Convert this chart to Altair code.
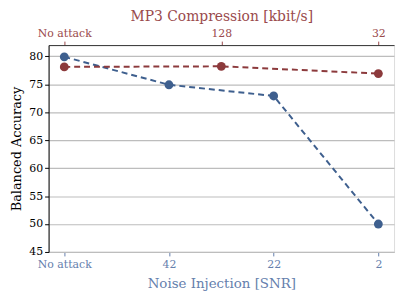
import altair as alt
import pandas as pd

noise_labels = ["No attack", "42", "22", "2"]
noise_values = [79.9, 74.9, 72.9, 50.0]
mp3_labels = ["No attack", "128", "32"]
mp3_values = [78.1, 78.2, 76.9]

blue = "#3E5F8E"
blue_txt = "#6580AD"
red = "#8C3A3C"
red_txt = "#9A4A4C"
font = "DejaVu Serif"

df_noise = pd.DataFrame({"lab": noise_labels, "acc": noise_values})
df_mp3 = pd.DataFrame({"lab": mp3_labels, "acc": mp3_values})

yscale = alt.Scale(domain=[45, 82], nice=False, zero=False)
yaxis = alt.Axis(title="Balanced Accuracy", values=[45, 50, 55, 60, 65, 70, 75, 80],
                 grid=True, gridColor="#BDBDBD", gridWidth=1.2, domainColor="black",
                 tickColor="black", tickSize=4, labelFontSize=11, titleFontSize=13,
                 labelColor="black", titleColor="black", labelFont=font, titleFont=font,
                 titleFontWeight="normal", labelPadding=2, titlePadding=5)

base_n = alt.Chart(df_noise).encode(
    x=alt.X("lab:N", sort=noise_labels,
            scale=alt.Scale(type="point", padding=0.15),
            axis=alt.Axis(title="Noise Injection [SNR]", orient="bottom", labelAngle=0,
                          labelColor=blue_txt, titleColor=blue_txt, tickColor=blue_txt,
                          domainColor="#BDBDBD", tickSize=4, labelFontSize=11,
                          titleFontSize=13.5, labelFont=font, titleFont=font,
                          titleFontWeight="normal", labelPadding=3, titlePadding=7, grid=False)),
    y=alt.Y("acc:Q", scale=yscale, axis=yaxis),
)
line_n = base_n.mark_line(color=blue, strokeDash=[6, 4], strokeWidth=2)
pts_n = base_n.mark_circle(color=blue, size=80, opacity=1)

base_m = alt.Chart(df_mp3).encode(
    x=alt.X("lab:N", sort=mp3_labels,
            scale=alt.Scale(type="point", padding=0.1),
            axis=alt.Axis(title="MP3 Compression [kbit/s]", orient="top", labelAngle=0,
                          labelColor=red_txt, titleColor=red_txt, tickColor=red_txt,
                          domainColor="#333333", tickSize=4, labelFontSize=11,
                          titleFontSize=14, labelFont=font, titleFont=font,
                          titleFontWeight="normal", labelPadding=3, titlePadding=4, grid=False)),
    y=alt.Y("acc:Q", scale=yscale, axis=yaxis),
)
line_m = base_m.mark_line(color=red, strokeDash=[6, 4], strokeWidth=2)
pts_m = base_m.mark_circle(color=red, size=80, opacity=1)

chart = alt.layer(
    alt.layer(line_n, pts_n),
    alt.layer(line_m, pts_m),
).resolve_scale(x="independent").properties(
    width=349, height=209, padding={"left": 3, "right": 5, "top": 0, "bottom": 2}
).configure_view(stroke="#333333", strokeWidth=1.2).configure(background="white", font=font)

chart.save("out.html", embed_options={"renderer": "svg", "actions": False})
